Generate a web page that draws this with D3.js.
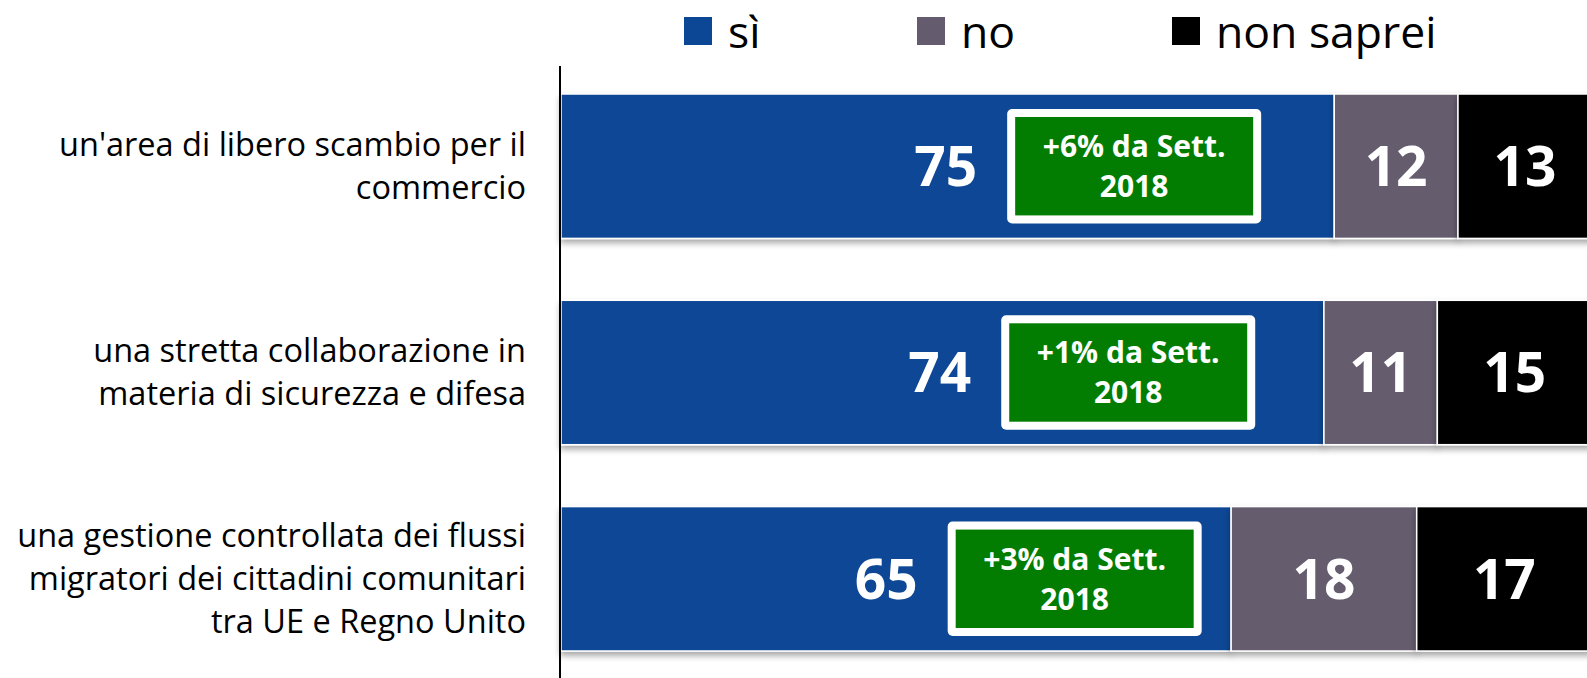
<!DOCTYPE html>
<html>
<head>
<meta charset="utf-8">
<script src="https://cdn.jsdelivr.net/npm/d3@7"></script>
<style>
  html, body { margin: 0; padding: 0; background: #fff; }
  svg { display: block; }
  text { font-family: "Open Sans", sans-serif; }
</style>
</head>
<body>
<div id="chart"></div>
<script>
// data
const categories = [
    ["un'area di libero scambio per il", "commercio"],
    ["una stretta collaborazione in", "materia di sicurezza e difesa"],
    ["una gestione controllata dei flussi", "migratori dei cittadini comunitari", "tra UE e Regno Unito"]
];
const siValues = [75, 74, 65];
const noValues = [12, 11, 18];
const nonSapreiValues = [13, 15, 17];
const changeLabels = ["+6% da Sett.", "+1% da Sett.", "+3% da Sett."];
const changeYear = "2018";
const seriesNames = ["sì", "no", "non saprei"];
const seriesColors = ["#0c4795", "#655b6e", "#000000"];

const width = 1587;
const height = 678;

const svg = d3.select("#chart").append("svg")
    .attr("width", width)
    .attr("height", height);

// soft shadow under the bars
const defs = svg.append("defs");
const shadow = defs.append("filter").attr("id", "shadow")
    .attr("x", "-5%").attr("y", "-10%").attr("width", "110%").attr("height", "130%");
shadow.append("feDropShadow")
    .attr("dx", 0).attr("dy", 4).attr("stdDeviation", 3)
    .attr("flood-color", "#000").attr("flood-opacity", 0.35);

const x = d3.scaleLinear().domain([0, 100]).range([561, 1592]);
const y = d3.scaleBand()
    .domain(d3.range(categories.length))
    .range([94, 651])
    .paddingInner(0.3)
    .paddingOuter(0);

// stack the three series
const rows = categories.map((c, i) => ({
    idx: i,
    values: [siValues[i], noValues[i], nonSapreiValues[i]]
}));
const stack = d3.stack().keys([0, 1, 2]).value((d, k) => d.values[k]);
const layers = stack(rows);

const barG = svg.append("g");
layers.forEach((layer, k) => {
    barG.append("g")
        .selectAll("rect")
        .data(layer)
        .join("rect")
        .attr("x", d => x(d[0]))
        .attr("y", (d, i) => y(i))
        .attr("width", d => x(d[1]) - x(d[0]))
        .attr("height", y.bandwidth())
        .attr("fill", seriesColors[k])
        .attr("stroke", "#fff")
        .attr("stroke-width", 1.5)
        .attr("filter", "url(#shadow)");
});

// value labels for "no" and "non saprei"
[1, 2].forEach(k => {
    svg.append("g")
        .selectAll("text")
        .data(layers[k])
        .join("text")
        .attr("x", d => (x(d[0]) + x(d[1])) / 2)
        .attr("y", (d, i) => y(i) + y.bandwidth() / 2)
        .attr("dy", "0.36em")
        .attr("text-anchor", "middle")
        .attr("fill", "#fff")
        .attr("font-weight", 700)
        .attr("font-size", 55)
        .text((d, i) => rows[i].values[k]);
});

// green change boxes inside the "sì" segment
const boxW = 254;
const boxInset = 15;
const boxPos = d => x(d.values[0] * 0.577);
const boxG = svg.append("g")
    .selectAll("g")
    .data(rows)
    .join("g")
    .attr("transform", d => `translate(${boxPos(d)},${y(d.idx) + boxInset})`);

boxG.append("rect")
    .attr("width", boxW)
    .attr("height", y.bandwidth() - boxInset * 2)
    .attr("rx", 5)
    .attr("fill", "#fff");

boxG.append("rect")
    .attr("x", 8)
    .attr("y", 8)
    .attr("width", boxW - 16)
    .attr("height", y.bandwidth() - boxInset * 2 - 16)
    .attr("fill", "#027d02");

const boxMid = (y.bandwidth() - boxInset * 2) / 2;
const boxText = boxG.append("text")
    .attr("text-anchor", "middle")
    .attr("fill", "#fff")
    .attr("font-weight", 700)
    .attr("font-size", 30);
boxText.append("tspan")
    .attr("x", boxW / 2)
    .attr("y", boxMid - 9)
    .text(d => changeLabels[d.idx]);
boxText.append("tspan")
    .attr("x", boxW / 2)
    .attr("y", boxMid + 31)
    .text(changeYear);

// "sì" values, to the left of the box
svg.append("g")
    .selectAll("text")
    .data(rows)
    .join("text")
    .attr("x", d => boxPos(d) - 30)
    .attr("y", d => y(d.idx) + y.bandwidth() / 2)
    .attr("dy", "0.36em")
    .attr("text-anchor", "end")
    .attr("fill", "#fff")
    .attr("font-weight", 700)
    .attr("font-size", 55)
    .text(d => d.values[0]);

// category labels on the left
const lineH = 43;
svg.append("g")
    .selectAll("text")
    .data(categories)
    .join("text")
    .attr("text-anchor", "end")
    .attr("font-size", 32.5)
    .attr("fill", "#000")
    .each(function(lines, i) {
        const cy = y(i) + y.bandwidth() / 2;
        const top = cy - (lines.length - 1) * lineH / 2;
        d3.select(this).selectAll("tspan")
            .data(lines)
            .join("tspan")
            .attr("x", 526)
            .attr("y", (l, j) => top + j * lineH)
            .attr("dy", "0.35em")
            .text(l => l);
    });

// vertical axis line
svg.append("line")
    .attr("x1", 560).attr("x2", 560)
    .attr("y1", 66).attr("y2", height)
    .attr("stroke", "#000")
    .attr("stroke-width", 2);

// legend
const legendX = [684, 917, 1172];
const legend = svg.append("g")
    .selectAll("g")
    .data(seriesNames)
    .join("g")
    .attr("transform", (d, i) => `translate(${legendX[i]},0)`);

legend.append("rect")
    .attr("y", 17)
    .attr("width", 28)
    .attr("height", 28)
    .attr("fill", (d, i) => seriesColors[i]);

legend.append("text")
    .attr("x", 44)
    .attr("y", 48)
    .attr("font-size", 44.5)
    .attr("fill", "#000")
    .text(d => d);
</script>
</body>
</html>
